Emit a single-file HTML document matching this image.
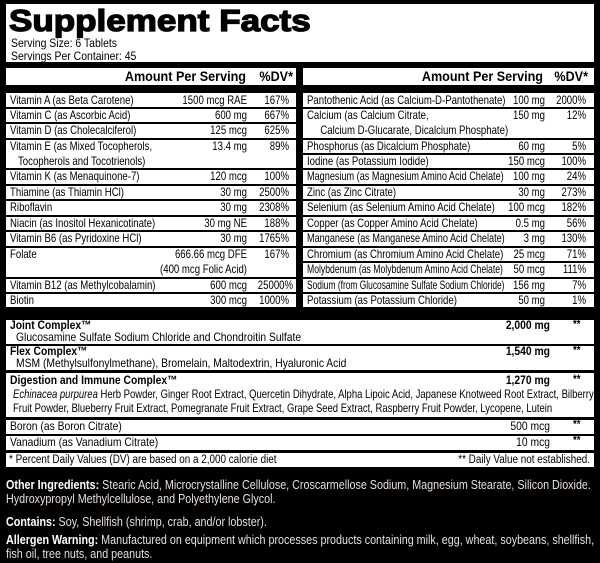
<!DOCTYPE html>
<html><head><meta charset="utf-8"><style>
*{margin:0;padding:0;box-sizing:border-box}
body{width:600px;height:563px;background:#000;position:relative;overflow:hidden;font-family:"Liberation Sans",sans-serif;font-size:12px;color:#000}
.w{position:absolute;background:#fff}
.t{position:absolute;white-space:nowrap;line-height:15px;transform:scaleX(.8);transform-origin:left center}
.r{text-align:right;transform-origin:right center}
.bt{transform:scaleX(.86)}
.h{transform:scaleX(.9)}
.b{font-weight:bold}
.f{color:#e8dede;position:absolute;white-space:nowrap;line-height:14px;font-size:12.5px;transform:scaleX(.86);transform-origin:left top}
</style></head><body>
<div class="w" style="left:6px;top:4px;width:588px;height:58px"></div>
<div class="t b" style="left:9px;top:4px;font-size:31px;line-height:34px;-webkit-text-stroke:1.3px #000;transform:scaleX(1.13)">Supplement Facts</div>
<div class="t" style="left:11px;top:37px;line-height:13px;transform:scaleX(.87)">Serving Size: 6 Tablets<br>Servings Per Container: 45</div>

<div class="w" style="left:6px;top:68px;width:290px;height:17px"></div>
<div class="t b r h" style="left:6px;top:68px;width:240px;font-size:14px;line-height:17px">Amount Per Serving</div>
<div class="t b r h" style="left:250px;top:68px;width:43px;font-size:14px;line-height:17px">%DV*</div>
<div class="w" style="left:303px;top:68px;width:291px;height:17px"></div>
<div class="t b r h" style="left:303px;top:68px;width:240px;font-size:14px;line-height:17px">Amount Per Serving</div>
<div class="t b r h" style="left:545px;top:68px;width:43px;font-size:14px;line-height:17px">%DV*</div>

<!-- left rows -->
<div class="w" style="left:6px;top:93px;width:290px;height:14px"></div>
<div class="w" style="left:6px;top:109px;width:290px;height:13px"></div>
<div class="w" style="left:6px;top:124px;width:290px;height:14px"></div>
<div class="w" style="left:6px;top:140px;width:290px;height:28px"></div>
<div class="w" style="left:6px;top:170px;width:290px;height:14px"></div>
<div class="w" style="left:6px;top:186px;width:290px;height:13px"></div>
<div class="w" style="left:6px;top:201px;width:290px;height:14px"></div>
<div class="w" style="left:6px;top:217px;width:290px;height:13px"></div>
<div class="w" style="left:6px;top:232px;width:290px;height:14px"></div>
<div class="w" style="left:6px;top:248px;width:290px;height:29px"></div>
<div class="w" style="left:6px;top:279px;width:290px;height:13px"></div>
<div class="w" style="left:6px;top:294px;width:290px;height:13px"></div>

<div class="t" style="left:10px;top:93px">Vitamin A (as Beta Carotene)</div><div class="t r" style="left:150px;top:93px;width:97px">1500 mcg RAE</div><div class="t r" style="left:250px;top:93px;width:39px">167%</div>
<div class="t" style="left:10px;top:108px">Vitamin C (as Ascorbic Acid)</div><div class="t r" style="left:150px;top:108px;width:97px">600 mg</div><div class="t r" style="left:250px;top:108px;width:39px">667%</div>
<div class="t" style="left:10px;top:123px">Vitamin D (as Cholecalciferol)</div><div class="t r" style="left:150px;top:123px;width:97px">125 mcg</div><div class="t r" style="left:250px;top:123px;width:39px">625%</div>
<div class="t" style="left:10px;top:139px">Vitamin E (as Mixed Tocopherols,<br>&nbsp;&nbsp;&nbsp;Tocopherols and Tocotrienols)</div><div class="t r" style="left:150px;top:139px;width:97px">13.4 mg</div><div class="t r" style="left:250px;top:139px;width:39px">89%</div>
<div class="t" style="left:10px;top:169px">Vitamin K (as Menaquinone-7)</div><div class="t r" style="left:150px;top:169px;width:97px">120 mcg</div><div class="t r" style="left:250px;top:169px;width:39px">100%</div>
<div class="t" style="left:10px;top:185px">Thiamine (as Thiamin HCl)</div><div class="t r" style="left:150px;top:185px;width:97px">30 mg</div><div class="t r" style="left:250px;top:185px;width:39px">2500%</div>
<div class="t" style="left:10px;top:200px">Riboflavin</div><div class="t r" style="left:150px;top:200px;width:97px">30 mg</div><div class="t r" style="left:250px;top:200px;width:39px">2308%</div>
<div class="t" style="left:10px;top:216px">Niacin (as Inositol Hexanicotinate)</div><div class="t r" style="left:150px;top:216px;width:97px">30 mg NE</div><div class="t r" style="left:250px;top:216px;width:39px">188%</div>
<div class="t" style="left:10px;top:231px">Vitamin B6 (as Pyridoxine HCl)</div><div class="t r" style="left:150px;top:231px;width:97px">30 mg</div><div class="t r" style="left:250px;top:231px;width:39px">1765%</div>
<div class="t" style="left:10px;top:247px">Folate</div><div class="t r" style="left:110px;top:247px;width:137px;line-height:15px">666.66 mcg DFE<br>(400 mcg Folic Acid)</div><div class="t r" style="left:250px;top:247px;width:39px">167%</div>
<div class="t" style="left:10px;top:278px">Vitamin B12 (as Methylcobalamin)</div><div class="t r" style="left:150px;top:278px;width:97px">600 mcg</div><div class="t r" style="left:250px;top:278px;width:39px">25000%</div>
<div class="t" style="left:10px;top:293px">Biotin</div><div class="t r" style="left:150px;top:293px;width:97px">300 mcg</div><div class="t r" style="left:250px;top:293px;width:39px">1000%</div>

<!-- right rows -->
<div class="w" style="left:303px;top:93px;width:291px;height:14px"></div>
<div class="w" style="left:303px;top:109px;width:291px;height:29px"></div>
<div class="w" style="left:303px;top:140px;width:291px;height:13px"></div>
<div class="w" style="left:303px;top:155px;width:291px;height:13px"></div>
<div class="w" style="left:303px;top:170px;width:291px;height:14px"></div>
<div class="w" style="left:303px;top:186px;width:291px;height:13px"></div>
<div class="w" style="left:303px;top:201px;width:291px;height:14px"></div>
<div class="w" style="left:303px;top:217px;width:291px;height:13px"></div>
<div class="w" style="left:303px;top:232px;width:291px;height:14px"></div>
<div class="w" style="left:303px;top:248px;width:291px;height:13px"></div>
<div class="w" style="left:303px;top:263px;width:291px;height:14px"></div>
<div class="w" style="left:303px;top:279px;width:291px;height:13px"></div>
<div class="w" style="left:303px;top:294px;width:291px;height:13px"></div>

<div class="t" style="left:307px;top:93px">Pantothenic Acid (as Calcium-D-Pantothenate)</div><div class="t r" style="left:490px;top:93px;width:55px">100 mg</div><div class="t r" style="left:536px;top:93px;width:50px">2000%</div>
<div class="t" style="left:307px;top:108px">Calcium (as Calcium Citrate,<br>&nbsp;&nbsp;&nbsp;&nbsp;&nbsp;Calcium D-Glucarate, Dicalcium Phosphate)</div><div class="t r" style="left:490px;top:108px;width:55px">150 mg</div><div class="t r" style="left:536px;top:108px;width:50px">12%</div>
<div class="t" style="left:307px;top:139px">Phosphorus (as Dicalcium Phosphate)</div><div class="t r" style="left:490px;top:139px;width:55px">60 mg</div><div class="t r" style="left:536px;top:139px;width:50px">5%</div>
<div class="t" style="left:307px;top:154px">Iodine (as Potassium Iodide)</div><div class="t r" style="left:480px;top:154px;width:65px">150 mcg</div><div class="t r" style="left:536px;top:154px;width:50px">100%</div>
<div class="t" style="left:307px;top:169px;transform:scaleX(.76)">Magnesium (as Magnesium Amino Acid Chelate)</div><div class="t r" style="left:490px;top:169px;width:55px">100 mg</div><div class="t r" style="left:536px;top:169px;width:50px">24%</div>
<div class="t" style="left:307px;top:185px">Zinc (as Zinc Citrate)</div><div class="t r" style="left:490px;top:185px;width:55px">30 mg</div><div class="t r" style="left:536px;top:185px;width:50px">273%</div>
<div class="t" style="left:307px;top:200px">Selenium (as Selenium Amino Acid Chelate)</div><div class="t r" style="left:480px;top:200px;width:65px">100 mcg</div><div class="t r" style="left:536px;top:200px;width:50px">182%</div>
<div class="t" style="left:307px;top:216px">Copper (as Copper Amino Acid Chelate)</div><div class="t r" style="left:490px;top:216px;width:55px">0.5 mg</div><div class="t r" style="left:536px;top:216px;width:50px">56%</div>
<div class="t" style="left:307px;top:231px;transform:scaleX(.76)">Manganese (as Manganese Amino Acid Chelate)</div><div class="t r" style="left:490px;top:231px;width:55px">3 mg</div><div class="t r" style="left:536px;top:231px;width:50px">130%</div>
<div class="t" style="left:307px;top:247px">Chromium (as Chromium Amino Acid Chelate)</div><div class="t r" style="left:490px;top:247px;width:55px">25 mcg</div><div class="t r" style="left:536px;top:247px;width:50px">71%</div>
<div class="t" style="left:307px;top:262px;transform:scaleX(.72)">Molybdenum (as Molybdenum Amino Acid Chelate)</div><div class="t r" style="left:490px;top:262px;width:55px">50 mcg</div><div class="t r" style="left:536px;top:262px;width:50px">111%</div>
<div class="t" style="left:307px;top:278px;transform:scaleX(.7)">Sodium (from Glucosamine Sulfate Sodium Chloride)</div><div class="t r" style="left:490px;top:278px;width:55px">156 mg</div><div class="t r" style="left:536px;top:278px;width:50px">7%</div>
<div class="t" style="left:307px;top:293px">Potassium (as Potassium Chloride)</div><div class="t r" style="left:490px;top:293px;width:55px">50 mg</div><div class="t r" style="left:536px;top:293px;width:50px">1%</div>

<!-- bottom table -->
<div class="w" style="left:6px;top:320px;width:588px;height:24px"></div>
<div class="w" style="left:6px;top:346px;width:588px;height:24px"></div>
<div class="w" style="left:6px;top:373px;width:588px;height:44px"></div>
<div class="w" style="left:6px;top:420px;width:588px;height:14px"></div>
<div class="w" style="left:6px;top:436px;width:588px;height:14px"></div>
<div class="w" style="left:6px;top:453px;width:588px;height:14px"></div>

<div class="t b bt" style="left:10px;top:319px;line-height:13px">Joint Complex™</div><div class="t r b bt" style="left:450px;top:319px;width:100px;line-height:13px">2,000 mg</div><div class="t b" style="left:573px;top:317px">**</div>
<div class="t bt" style="left:16px;top:331px;line-height:13px">Glucosamine Sulfate Sodium Chloride and Chondroitin Sulfate</div>
<div class="t b bt" style="left:10px;top:345px;line-height:13px">Flex Complex™</div><div class="t r b bt" style="left:450px;top:345px;width:100px;line-height:13px">1,540 mg</div><div class="t b" style="left:573px;top:343px">**</div>
<div class="t bt" style="left:16px;top:357px;line-height:13px">MSM (Methylsulfonylmethane), Bromelain, Maltodextrin, Hyaluronic Acid</div>
<div class="t b bt" style="left:10px;top:374px;line-height:13px">Digestion and Immune Complex™</div><div class="t r b bt" style="left:450px;top:374px;width:100px;line-height:13px">1,270 mg</div><div class="t b" style="left:573px;top:372px">**</div>
<div class="t" style="left:13px;top:387px;line-height:14px;transform:scaleX(.79)"><i>Echinacea purpurea</i> Herb Powder, Ginger Root Extract, Quercetin Dihydrate, Alpha Lipoic Acid, Japanese Knotweed Root Extract, Bilberry<br>Fruit Powder, Blueberry Fruit Extract, Pomegranate Fruit Extract, Grape Seed Extract, Raspberry Fruit Powder, Lycopene, Lutein</div>
<div class="t bt" style="left:10px;top:419px">Boron (as Boron Citrate)</div><div class="t r bt" style="left:450px;top:419px;width:100px">500 mcg</div><div class="t b" style="left:573px;top:417px">**</div>
<div class="t bt" style="left:10px;top:435px">Vanadium (as Vanadium Citrate)</div><div class="t r bt" style="left:450px;top:435px;width:100px">10 mcg</div><div class="t b" style="left:573px;top:433px">**</div>
<div class="t bt" style="left:9px;top:453px;font-size:11.5px">* Percent Daily Values (DV) are based on a 2,000 calorie diet</div>
<div class="t r bt" style="left:380px;top:453px;width:210px;font-size:11.5px">** Daily Value not established.</div>

<div class="f" style="left:6px;top:478px"><b style="color:#fff">Other Ingredients:</b> Stearic Acid, Microcrystalline Cellulose, Croscarmellose Sodium, Magnesium Stearate, Silicon Dioxide.<br>Hydroxypropyl Methylcellulose, and Polyethylene Glycol.</div>
<div class="f" style="left:6px;top:515px"><b style="color:#fff">Contains:</b> Soy, Shellfish (shrimp, crab, and/or lobster).</div>
<div class="f" style="left:6px;top:533px"><b style="color:#fff">Allergen Warning:</b> Manufactured on equipment which processes products containing milk, egg, wheat, soybeans, shellfish,<br>fish oil, tree nuts, and peanuts.</div>
</body></html>
